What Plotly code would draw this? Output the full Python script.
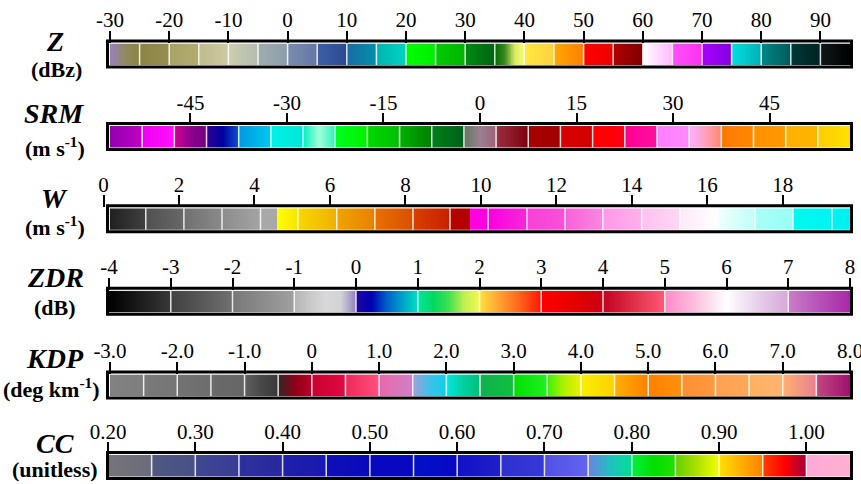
import numpy as np
import plotly.graph_objects as go

# ------------------------------------------------------------------ data
Z_edges = [-30, -25, -20, -15, -10, -5, 0, 5, 10, 15, 20, 25, 30, 35, 40, 45,
           50, 55, 60, 65, 70, 75, 80, 85, 90, 95]
Z_colors = [
    ["#9880c0", "#908a60", "#8a8440"], ["#8a8444", "#968e50"], ["#a8a264", "#b2ac70"],
    ["#c0bb8c", "#cccaa2"], ["#cdcdb0", "#b4bcae"], ["#a0acae", "#8c9cac"],
    ["#7a8cac", "#6478a8"], ["#4060a4", "#284a94"], ["#1a6ca4", "#0090ac"],
    ["#00b4b4", "#00d4c0"], ["#00ff00", "#00ee00"], ["#00cc00", "#00b400"],
    ["#008a10", "#006410"], ["#006c00", "#3a8a20", "#d8e860", "#ffff70"],
    ["#ffe840", "#ffd040"], ["#ffa800", "#ff8000"], ["#ff0000", "#f00000"],
    ["#b00000", "#800000"], ["#ffffff", "#ffb8ff"], ["#ff50ff", "#ff30f0"],
    ["#a800ff", "#8400e0"], ["#00e0e0", "#00b0b4"], ["#008888", "#005a5a"],
    ["#003838", "#002222"], ["#101818", "#000000"],
]
Z_ticks = [-30, -20, -10, 0, 10, 20, 30, 40, 50, 60, 70, 80, 90]
Z_labels = ["-30", "-20", "-10", "0", "10", "20", "30", "40", "50", "60", "70", "80", "90"]

SRM_edges = [-57.5, -52.5, -47.5, -42.5, -37.5, -32.5, -27.5, -22.5, -17.5, -12.5,
             -7.5, -2.5, 2.5, 7.5, 12.5, 17.5, 22.5, 27.5, 32.5, 37.5, 42.5, 47.5,
             52.5, 57.5]
SRM_colors = [
    ["#9000b0", "#c000c8"], ["#f000f0", "#ff10ff"], ["#d00090", "#900090", "#700080"],
    ["#300090", "#0000a0", "#1050d0"], ["#0098e0", "#00c8f0"], ["#00f0e8", "#00e8d8"],
    ["#00f0c0", "#a0ffd8", "#30f0c0"], ["#00ff20", "#00f000"], ["#00d800", "#00c000"],
    ["#00b000", "#008000"], ["#00801a", "#00601a"], ["#607860", "#9a8090", "#a06078"],
    ["#983040", "#800010"], ["#a80000", "#a00000"], ["#d80000", "#d00000"],
    ["#ff0000", "#ff0010"], ["#ff0090", "#ff10a0"], ["#ff80ff", "#ff88ff"],
    ["#ffb0ff", "#ffa0c0", "#ff8868"], ["#ff7800", "#ff8800"], ["#ff9000", "#ff9800"],
    ["#ffb000", "#ffb400"], ["#ffcc00", "#ffe000"],
]
SRM_ticks = [-45, -30, -15, 0, 15, 30, 45]
SRM_labels = ["-45", "-30", "-15", "0", "15", "30", "45"]

W_edges = [0.17, 1.12, 2.13, 3.14, 4.16, 4.6, 5.15, 6.18, 7.19, 8.2, 9.18, 9.71,
           10.19, 11.22, 12.23, 13.23, 14.26, 15.27, 16.28, 17.26, 18.27, 19.3, 19.78]
W_colors = [
    ["#202020", "#404040"], ["#505050", "#686868"], ["#707070", "#8a8a8a"],
    ["#8c8c8c", "#a4a4a4"], ["#a8a8a8", "#a8a8a8"], ["#ffff00", "#f8e400"],
    ["#f8d800", "#f0b000"], ["#f0a400", "#e88000"], ["#e87000", "#d85000"],
    ["#d84000", "#c82000"], ["#b80000", "#b00000"], ["#ff00e0", "#ff00e0"],
    ["#f800e0", "#f828d8"], ["#f840d8", "#f850d8"], ["#f860d8", "#f888e0"],
    ["#ff98e8", "#ffb0ec"], ["#ffc0f0", "#ffd8f4"], ["#ffe8f8", "#ffffff"],
    ["#f0ffff", "#c0fff8"], ["#a8fff8", "#98fff4"], ["#00f8f0", "#00f4f0"],
    ["#00f4f0", "#00f0f0"],
]
W_lines = [1.12, 2.13, 3.14, 4.16, 5.15, 6.18, 7.19, 8.2, 9.18, 10.19, 11.22, 12.23,
           13.23, 14.26, 15.27, 16.28, 17.26, 18.27, 19.3]
W_ticks = [0, 2, 4, 6, 8, 10, 12, 14, 16, 18]
W_labels = ["0", "2", "4", "6", "8", "10", "12", "14", "16", "18"]

ZDR_edges = [-4, -3, -2, -1, 0, 1, 2, 3, 4, 5, 7, 8]
ZDR_colors = [
    ["#000000", "#383838"], ["#404040", "#707070"], ["#787878", "#a0a0a0"],
    ["#b4b4b4", "#c8c8c8", "#d8d8d8", "#d4d4d8", "#9080c0"],
    ["#2008a0", "#0000b0", "#0060c8", "#00a0c8", "#00e0c0"],
    ["#00e8a0", "#00d860", "#40e050", "#c0f050", "#f0f850"],
    ["#ffe040", "#ffa030", "#ff6018", "#ff1808"],
    ["#ff0000", "#e80000", "#c80010"],
    ["#c00020", "#e03048", "#ff5878"],
    ["#ff88c8", "#ffc0e0", "#ffffff", "#e8d0ec", "#d8a8d8"],
    ["#c880c8", "#b850b8", "#a828a8"],
]
ZDR_ticks = [-4, -3, -2, -1, 0, 1, 2, 3, 4, 5, 6, 7, 8]
ZDR_labels = ["-4", "-3", "-2", "-1", "0", "1", "2", "3", "4", "5", "6", "7", "8"]

KDP_edges = [-3.0, -2.5, -2.0, -1.5, -1.0, -0.5, 0.0, 0.5, 1.0, 1.5, 2.0, 2.5, 3.0,
             3.5, 4.0, 4.5, 5.0, 5.5, 6.0, 6.5, 7.0, 7.5, 8.0]
KDP_colors = [
    ["#828282", "#7e7e7e"], ["#7a7a7a", "#767676"], ["#727272", "#6e6e6e"],
    ["#6a6a6a", "#666666"], ["#606060", "#484848", "#383838"],
    ["#302828", "#900018", "#b80028"], ["#c80030", "#e00a40"], ["#f02858", "#ff5080"],
    ["#e868a8", "#d080c8"], ["#a0a0d8", "#40c0e8", "#10d0e8"],
    ["#00e8e0", "#00d0a0", "#00c078"], ["#10b050", "#10c040"], ["#00e000", "#20f020"],
    ["#40f010", "#b0f000", "#f0f000"], ["#f8f000", "#ffd000"], ["#ffb000", "#ff8000"],
    ["#ff8000", "#ff9010"], ["#ff9030", "#ff9840"], ["#ffa050", "#ffa858"],
    ["#ffb060", "#ffb470"], ["#ffb070", "#e88090"], ["#c04880", "#a01070"],
]
KDP_ticks = [-3, -2, -1, 0, 1, 2, 3, 4, 5, 6, 7, 8]
KDP_labels = ["-3.0", "-2.0", "-1.0", "0", "1.0", "2.0", "3.0", "4.0", "5.0", "6.0", "7.0", "8.0"]

CC_edges = [0.20, 0.25, 0.30, 0.35, 0.40, 0.45, 0.50, 0.55, 0.60, 0.65, 0.70, 0.75,
            0.80, 0.85, 0.90, 0.95, 1.00, 1.05]
CC_colors = [
    ["#747478", "#6c6c7c"], ["#505880", "#485088"], ["#404890", "#383c98"],
    ["#30309c", "#2828a0"], ["#2020a8", "#1818b0"], ["#1010b8", "#0808bc"],
    ["#0808c4", "#0808c0"], ["#0010c8", "#0808c4"], ["#1010c8", "#2020c8"],
    ["#3030d0", "#3838d8"], ["#5050e4", "#6464f0"], ["#7080e0", "#20c0c0", "#00e090"],
    ["#00f040", "#00e000", "#20e000"], ["#60d000", "#b0e000", "#f0ff00"],
    ["#ffe000", "#ffb000", "#ff8000"], ["#ff4000", "#ff0000", "#a00040"],
    ["#ffa8d8", "#ffb0d0"],
]
CC_ticks = [0.2, 0.3, 0.4, 0.5, 0.6, 0.7, 0.8, 0.9, 1.0]
CC_labels = ["0.20", "0.30", "0.40", "0.50", "0.60", "0.70", "0.80", "0.90", "1.00"]

names = ["Z", "SRM", "W", "ZDR", "KDP", "CC"]
units = ["(dBz)", "(m s<sup>-1</sup>)", "(m s<sup>-1</sup>)", "(dB)",
         "(deg km<sup>-1</sup>)", "(unitless)"]

# ------------------------------------------------------------------ layout (pixels)
WPX, HPX = 861, 484
bars = [
    dict(edges=Z_edges, colors=Z_colors, lines=Z_edges[1:-1], ticks=Z_ticks, labels=Z_labels,
         range=[-30, 95], dom=[110, 850], top=39.5),
    dict(edges=SRM_edges, colors=SRM_colors, lines=SRM_edges[1:-1], ticks=SRM_ticks,
         labels=SRM_labels, range=[-57.5, 57.5], dom=[110, 850], top=122),
    dict(edges=W_edges, colors=W_colors, lines=W_lines, ticks=W_ticks, labels=W_labels,
         range=[0, 19.78], dom=[103.5, 850], top=204.3),
    dict(edges=ZDR_edges, colors=ZDR_colors, lines=ZDR_edges[1:-1], ticks=ZDR_ticks,
         labels=ZDR_labels, range=[-4, 8], dom=[109, 850], top=286.7),
    dict(edges=KDP_edges, colors=KDP_colors, lines=KDP_edges[1:-1], ticks=KDP_ticks,
         labels=KDP_labels, range=[-3, 8], dom=[110, 850], top=370.5),
    dict(edges=CC_edges, colors=CC_colors, lines=CC_edges[1:-1], ticks=CC_ticks,
         labels=CC_labels, range=[0.2, 1.05], dom=[108, 850], top=451),
]
title_pos = [(55, 41), (54, 113), (54, 198), (55, 277), (55, 358), (55, 443)]
unit_pos = [(56, 69), (55, 147), (55, 226), (55, 307), (51, 388), (55, 469)]

SERIF = "Liberation Serif"


def px_x(x):
    return x / WPX


def px_y(y):
    return 1 - y / HPX


def build_scale(edges, colors):
    lo, hi = edges[0], edges[-1]
    scale = []
    for a, b, cols in zip(edges[:-1], edges[1:], colors):
        k = len(cols)
        for j, c in enumerate(cols):
            pos = (a + (b - a) * j / (k - 1) - lo) / (hi - lo)
            scale.append([min(max(round(pos, 6), 0.0), 1.0), c])
    scale[0][0] = 0.0
    scale[-1][0] = 1.0
    for i in range(1, len(scale)):
        if scale[i][0] < scale[i - 1][0]:
            scale[i][0] = scale[i - 1][0]
    return scale


fig = go.Figure()
shapes = []
annotations = []
layout_axes = {}

for i, b in enumerate(bars):
    n = i + 1
    sfx = "" if n == 1 else str(n)
    e = b["edges"]
    xe = np.linspace(e[0], e[-1], 1201)
    xc = (xe[:-1] + xe[1:]) / 2
    fig.add_trace(go.Heatmap(
        x=xe, y=[0, 1], z=[xc], zmin=e[0], zmax=e[-1],
        colorscale=build_scale(e, b["colors"]), showscale=False,
        hoverinfo="skip", xaxis="x" + sfx, yaxis="y" + sfx,
    ))
    top = b["top"]
    layout_axes["xaxis" + sfx] = dict(
        domain=[px_x(b["dom"][0]), px_x(b["dom"][1])], range=b["range"],
        anchor="y" + sfx, side="top", showgrid=False, zeroline=False, showline=False,
        ticks="outside", ticklen=12, tickwidth=2, tickcolor="black", automargin=False,
        tickmode="array", tickvals=b["ticks"], ticktext=b["labels"],
        ticklabeloverflow="allow", ticklabelstandoff=-5,
        tickfont=dict(family=SERIF, size=21, color="black"), fixedrange=True,
    )
    layout_axes["yaxis" + sfx] = dict(
        domain=[px_y(top + 25.5), px_y(top + 4)], range=[0, 1], visible=False,
        fixedrange=True, automargin=False,
    )
    for xv in b["lines"]:
        shapes.append(dict(type="line", xref="x" + sfx, yref="y" + sfx + " domain",
                           x0=xv, x1=xv, y0=0, y1=1,
                           line=dict(color="rgba(255,255,255,0.85)", width=1.5)))
    shapes.append(dict(type="rect", xref="paper", yref="paper",
                       x0=px_x(107.5), x1=px_x(851.5), y0=px_y(top + 1.5), y1=px_y(top + 27.5),
                       line=dict(color="black", width=3), fillcolor="rgba(0,0,0,0)"))
    tx, ty = title_pos[i]
    annotations.append(dict(text="<b><i>%s</i></b>" % names[i], x=px_x(tx), y=px_y(ty),
                            xref="paper", yref="paper", showarrow=False,
                            xanchor="center", yanchor="middle",
                            font=dict(family=SERIF, size=28, color="black")))
    ux, uy = unit_pos[i]
    annotations.append(dict(text="<b>%s</b>" % units[i], x=px_x(ux), y=px_y(uy),
                            xref="paper", yref="paper", showarrow=False,
                            xanchor="center", yanchor="middle",
                            font=dict(family=SERIF, size=22, color="black")))

fig.update_layout(
    width=WPX, height=HPX, autosize=False,
    margin=dict(l=0, r=0, t=0, b=0, pad=0, autoexpand=False),
    paper_bgcolor="white", plot_bgcolor="white", showlegend=False,
    shapes=shapes, annotations=annotations, **layout_axes,
)
fig.write_html("out.html", config={"displayModeBar": False},
               post_script="document.body.style.margin='0px';"
                           "document.body.style.overflow='hidden';")
